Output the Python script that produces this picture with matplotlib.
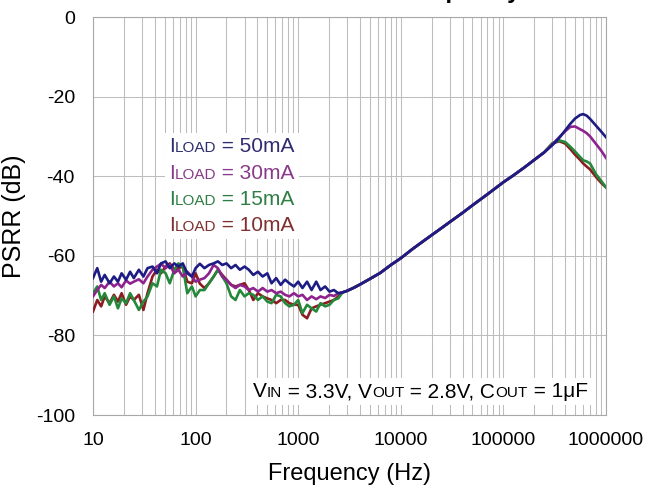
import matplotlib
matplotlib.use("Agg")
import matplotlib.pyplot as plt
import numpy as np
from matplotlib.ticker import FixedLocator, LogLocator, NullFormatter
from matplotlib.offsetbox import TextArea, HPacker, VPacker, AnchoredOffsetbox

plt.rcParams['font.family'] = ['Liberation Sans', 'DejaVu Sans']

#
# Noisy low frequency part (Hz, dB).
#
freq_noise = [10, 11, 12, 13, 14.5, 16, 17.5, 19, 21, 23, 25, 28, 31, 34, 38, 42, 46, 51, 56, 62,
              68, 75, 83, 92, 100, 110, 122, 135, 150, 165, 182, 200, 222, 245, 270, 300, 330, 365,
              405, 450, 500, 550, 610, 675, 745, 820, 910, 1000, 1100, 1220, 1350, 1500, 1650,
              1830, 2020, 2230, 2460]

noise_50ma = [-65.6, -63.1, -66.5, -64.8, -66.9, -65.2, -66.5, -64.4, -66.0, -64.0,
              -65.6, -63.5, -65.2, -63.1, -62.7, -64.4, -61.9, -61.4, -63.1, -61.9,
              -62.7, -61.9, -64.4, -65.2, -63.1, -62.0, -63.1, -62.3, -61.9, -61.4,
              -62.3, -61.9, -63.1, -62.3, -63.5, -62.7, -63.5, -64.8, -64.0, -65.2,
              -64.4, -66.9, -65.6, -67.3, -66.0, -66.9, -67.7, -66.5, -68.1, -66.5,
              -68.6, -66.5, -68.6, -67.7, -69.0, -68.6, -69.4]

noise_30ma = [-70.2, -68.6, -67.3, -68.1, -66.5, -67.7, -66.9, -67.9, -66.2, -67.0,
              -66.5, -65.9, -66.9, -65.2, -63.5, -62.7, -62.0, -63.1, -62.3, -64.4,
              -63.5, -65.2, -64.0, -65.2, -66.5, -66.0, -65.6, -64.4, -62.3, -63.1,
              -65.2, -66.0, -67.3, -68.1, -67.3, -67.7, -68.6, -68.1, -69.0, -68.1,
              -69.0, -68.6, -69.4, -69.0, -69.8, -70.2, -69.4, -70.2, -69.8, -71.1,
              -70.2, -70.9, -70.2, -70.6, -69.8, -70.1, -69.4]

noise_15ma = [-69.4, -67.7, -71.1, -69.4, -72.3, -70.2, -73.2, -70.7, -71.9, -69.4,
              -71.1, -73.6, -71.5, -70.2, -66.9, -67.7, -63.5, -64.4, -66.9, -63.5,
              -61.9, -62.7, -69.4, -67.7, -70.2, -68.6, -68.6, -66.9, -65.2, -63.5,
              -65.2, -66.9, -70.2, -71.1, -68.6, -70.2, -69.4, -69.8, -71.1, -70.2,
              -71.5, -71.9, -69.8, -70.2, -71.9, -72.7, -72.3, -71.1, -74.4, -72.3,
              -73.2, -74.0, -71.9, -72.7, -72.3, -71.1, -70.7]

noise_10ma = [-74.0, -71.1, -72.7, -70.2, -71.9, -69.8, -71.5, -69.4, -72.3, -70.2,
              -71.1, -69.8, -73.6, -69.4, -65.2, -63.5, -64.4, -62.7, -61.9, -63.5,
              -63.1, -62.7, -66.5, -66.9, -64.4, -67.0, -68.1, -66.9, -65.2, -63.5,
              -64.8, -66.0, -67.3, -67.7, -67.3, -66.9, -68.6, -71.1, -69.4, -70.2,
              -70.7, -71.1, -71.9, -71.1, -71.1, -71.9, -72.3, -72.3, -74.8, -75.7,
              -73.2, -72.7, -72.3, -71.9, -71.5, -71.1, -70.2]

#
# Rising part, the four curves sit on top of each other.
#
freq_rise = [2700, 3000, 3500, 4000, 5000, 6300, 8000, 10000, 13000, 16000, 20000, 25000,
             32000, 40000, 50000, 63000, 80000, 100000, 125000, 160000, 200000, 250000]
psrr_rise = [-69.2, -68.8, -68.0, -67.2, -65.8, -64.3, -62.3, -60.6, -58.3, -56.6, -54.8, -53.0,
             -51.0, -49.2, -47.3, -45.4, -43.4, -41.5, -39.8, -37.8, -35.9, -34.0]

#
# High frequency peaks, one per load current.
#
freq_tail = [300000, 350000, 400000, 450000, 500000, 560000, 600000, 650000, 700000,
             800000, 900000, 1000000]
tail_50ma = [-32.2, -30.4, -28.5, -26.8, -25.5, -24.6, -24.4, -24.8, -25.6, -27.3, -28.8, -30.2]
tail_30ma = [-32.0, -30.2, -28.7, -27.6, -27.5, -28.2, -28.6, -29.2, -30.0, -31.9, -33.6, -35.4]
tail_15ma = [-31.7, -31.0, -31.4, -32.6, -33.8, -35.2, -36.0, -36.3, -36.8, -39.5, -41.2, -42.8]
tail_10ma = [-31.8, -31.2, -31.8, -33.2, -34.6, -35.9, -36.8, -37.6, -38.3, -40.2, -41.7, -42.8]

load_labels = ["50mA", "30mA", "15mA", "10mA"]
line_colors = ["#1c1c84", "#8e2390", "#24883a", "#8c1c22"]
text_colors = ["#2e2e6e", "#8a3a8a", "#2f7f45", "#7f2f2f"]

x_ticks = [10, 100, 1000, 10000, 100000, 1000000]
y_ticks = [-100, -80, -60, -40, -20, 0]

series = [
    (noise_50ma, tail_50ma),
    (noise_30ma, tail_30ma),
    (noise_15ma, tail_15ma),
    (noise_10ma, tail_10ma),
]

fig = plt.figure(figsize=(6.49, 4.95), dpi=100)
ax = fig.add_axes([0.1433, 0.1616, 0.7904, 0.804])

freq_all = np.concatenate([freq_noise, freq_rise, freq_tail])

#
# Draw from the lightest load to the heaviest so the blue curve ends on top.
#
for i in reversed(range(len(series))):
    noise, tail = series[i]
    psrr = np.concatenate([noise, psrr_rise, tail])
    ax.plot(freq_all, psrr, color=line_colors[i], lw=1.9, zorder=3)

ax.set_xscale("log")
ax.set_xlim(10, 1e6)
ax.set_ylim(-100, 0)
ax.xaxis.set_major_locator(FixedLocator(x_ticks))
ax.set_xticklabels([str(t) for t in x_ticks])
ax.xaxis.set_minor_locator(LogLocator(base=10, subs=np.arange(2, 10)))
ax.xaxis.set_minor_formatter(NullFormatter())
ax.set_yticks(y_ticks)
ax.set_yticklabels([str(t) for t in y_ticks])

ax.grid(which="both", axis="x", color="#bdbdbd", lw=0.75)
ax.grid(which="major", axis="y", color="#bdbdbd", lw=0.75)
ax.tick_params(which="both", length=0, labelsize=14)
ax.tick_params(axis="x", pad=12)
ax.tick_params(axis="y", pad=13)
for s in ax.spines.values():
    s.set_color("#a8a8a8")
    s.set_linewidth(0.8)

ax.set_xlabel("Frequency (Hz)", fontsize=17, labelpad=10)
ax.set_ylabel("PSRR (dB)", fontsize=18, labelpad=7)

#
# Title is cut by the top edge of the picture, only its bottom shows.
#
fig.text(405 / 649, 1 + 2 / 495, "PSRR vs. Frequency", ha="center", va="baseline",
         fontsize=17, fontweight="bold")


def small_caps_row(parts, color, big=15, small=11):
    # parts: list of (text, is_small)
    boxes = [TextArea(t, textprops=dict(color=color, fontsize=small if sm else big))
             for t, sm in parts]
    return HPacker(children=boxes, align="baseline", pad=0, sep=0)


#
# Legend made of coloured text rows.
#
rows = []
for lab, col in zip(load_labels, text_colors):
    rows.append(small_caps_row([("I", False), ("LOAD", True), (" = " + lab, False)], col))
legend_box = VPacker(children=rows, align="left", pad=0, sep=5.3)
anchored = AnchoredOffsetbox(loc="upper left", child=legend_box, pad=0.3, borderpad=0,
                             frameon=True, bbox_to_anchor=(165 / 649, 1 - 133 / 495),
                             bbox_transform=fig.transFigure)
anchored.patch.set_facecolor("white")
anchored.patch.set_edgecolor("none")
anchored.set_zorder(4)
ax.add_artist(anchored)

#
# Test conditions.
#
cond = small_caps_row([("V", False), ("IN", True), (" = 3.3V, V", False), ("OUT", True),
                       (" = 2.8V, C", False), ("OUT", True), (" = 1μF", False)], "black")
anchored2 = AnchoredOffsetbox(loc="upper left", child=cond, pad=0.3, borderpad=0,
                              frameon=True, bbox_to_anchor=(249 / 649, 1 - 378 / 495),
                              bbox_transform=fig.transFigure)
anchored2.patch.set_facecolor("white")
anchored2.patch.set_edgecolor("none")
anchored2.set_zorder(4)
ax.add_artist(anchored2)

fig.savefig("out.png", dpi=100)
